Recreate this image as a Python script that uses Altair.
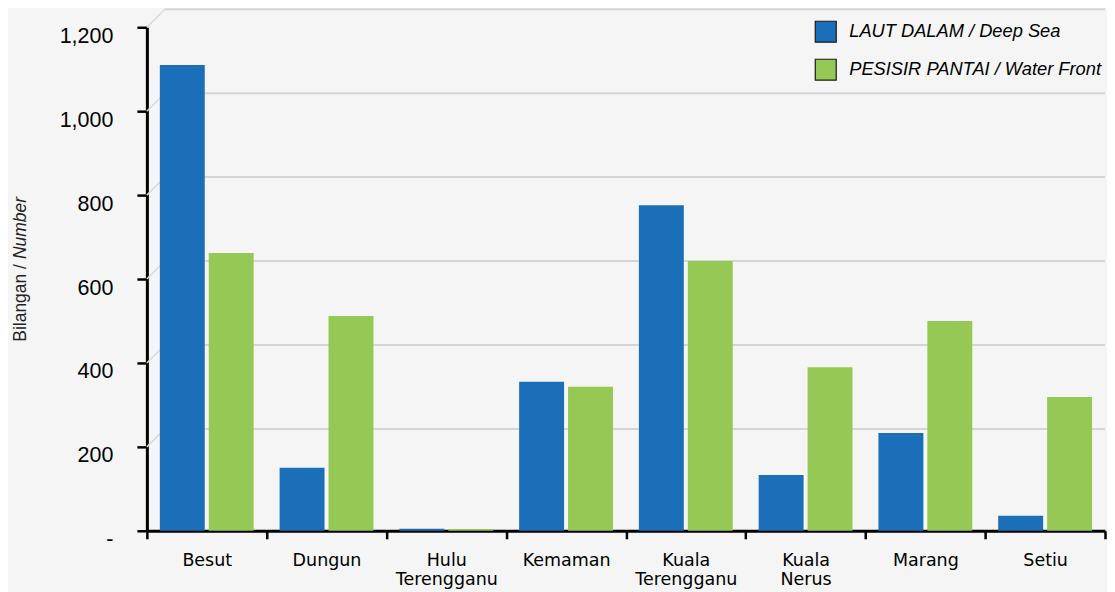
import altair as alt
import pandas as pd

districts = ["Besut", "Dungun", "Hulu Terengganu", "Kemaman", "Kuala Terengganu",
             "Kuala Nerus", "Marang", "Setiu"]
deep_sea = [1110, 150, 5, 355, 776, 133, 233, 36]
water_front = [662, 512, 4, 343, 643, 390, 500, 319]
series_names = ["LAUT DALAM / Deep Sea", "PESISIR PANTAI / Water Front"]
series_colors = ["#1B6FB8", "#95C855"]
y_ticks = [0, 200, 400, 600, 800, 1000, 1200]

rows = []
for d, a, b in zip(districts, deep_sea, water_front):
    rows.append({"district": d, "series": series_names[0], "value": a})
    rows.append({"district": d, "series": series_names[1], "value": b})
df = pd.DataFrame(rows)
grid_df = pd.DataFrame({"tick": y_ticks[1:]})

W, H = 959, 504
y_scale = alt.Scale(domain=[0, 1200], nice=False)

grid_h = alt.Chart(grid_df).mark_rule(color="#d4d5d4", strokeWidth=2, yOffset=-18).encode(
    y=alt.Y("tick:Q", scale=y_scale),
    x=alt.value(18), x2=alt.value(W),
)
grid_d = alt.Chart(grid_df).mark_rule(color="#dadbda", strokeWidth=1.5, y2Offset=-18).encode(
    y=alt.Y("tick:Q", scale=y_scale),
    y2=alt.Y2("tick:Q"),
    x=alt.value(0), x2=alt.value(18),
)

bars = alt.Chart(df).mark_bar().encode(
    x=alt.X("district:N", sort=districts,
            scale=alt.Scale(paddingInner=0, paddingOuter=0),
            axis=alt.Axis(title=None, tickBand="extent", labelAngle=0,
                          labelExpr="split(datum.label, ' ')",
                          labelFont="DejaVu Sans", labelFontSize=17.5, labelColor="black",
                          labelLineHeight=19, labelPadding=13, labelBaseline="top",
                          tickSize=8, tickWidth=2.5, tickColor="black",
                          domainColor="black", domainWidth=3)),
    xOffset=alt.XOffset("series:N", sort=series_names,
                        scale=alt.Scale(paddingInner=0.0816, paddingOuter=0.265)),
    y=alt.Y("value:Q", scale=y_scale,
            axis=alt.Axis(title=None, values=y_ticks, grid=False,
                          labelExpr="datum.value == 0 ? '-' : format(datum.value, ',')",
                          labelFont="Liberation Sans", labelFontSize=21.5, labelColor="black",
                          labelPadding=24, labelOffset=9,
                          tickSize=10, tickWidth=2.5, tickColor="black",
                          domainColor="black", domainWidth=3)),
    color=alt.Color("series:N", sort=series_names,
                    scale=alt.Scale(domain=series_names, range=series_colors),
                    legend=alt.Legend(orient="none", legendX=668, legendY=-7, title=None,
                                      symbolType="square", symbolSize=440,
                                      symbolStrokeColor="#1a1a1a", symbolStrokeWidth=1.2,
                                      labelFont="Liberation Sans", labelFontStyle="italic",
                                      labelFontSize=18.3, labelColor="black", labelLimit=400,
                                      labelOffset=12, rowPadding=11)),
)

t1 = alt.Chart(pd.DataFrame({"t": ["Bilangan /"]})).mark_text(
    angle=270, align="right", baseline="middle", font="Liberation Sans",
    fontSize=17.5, color="#222222").encode(
    text="t:N", x=alt.value(-126), y=alt.value(237))
t2 = alt.Chart(pd.DataFrame({"t": ["Number"]})).mark_text(
    angle=270, align="left", baseline="middle", font="Liberation Sans",
    fontSize=17.5, fontStyle="italic", color="#222222").encode(
    text="t:N", x=alt.value(-126), y=alt.value(232))

chart = alt.layer(grid_d, grid_h, bars, t1, t2).properties(
    width=W, height=H, background="#f4f5f4",
    padding={"left": 4, "top": 0, "right": 0, "bottom": 4}
).configure_view(stroke=None)

chart.save("out.html", embed_options={"renderer": "svg", "actions": False})
